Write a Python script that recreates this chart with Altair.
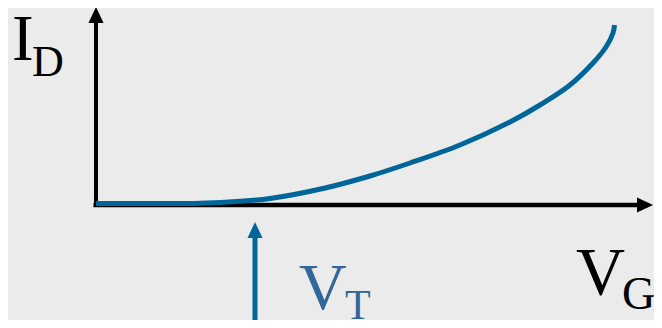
import altair as alt
import pandas as pd

# Transfer characteristic I_D vs V_G (arbitrary units)
vg = [0.0, 1.08, 2.08, 2.88, 3.48, 4.54, 5.48, 6.28, 7.28, 8.28, 8.88, 9.48, 9.94, 10.2, 10.34, 10.37]
id_ = [0.075, 0.075, 0.09, 0.185, 0.325, 0.825, 1.45, 2.1, 3.0, 4.15, 5.0, 6.0, 7.1, 7.9, 8.6, 9.0]

# Axis arrows (shafts) and heads
seg_x = [0.0, -0.05, 3.18]
seg_y = [-0.05, 0.0, -6.0]
seg_x2 = [0.0, 10.9, 3.18]
seg_y2 = [9.3, 0.0, -1.5]
seg_col = ["#000000", "#000000", "#006699"]
seg_w = [4, 4.5, 5]

tip_x = [0.0, 11.14, 3.18]
tip_y = [9.9, 0.0, -0.85]
tip_angle = [0, 90, 0]
tip_col = ["#000000", "#000000", "#006699"]

# Labels
lab_text = ["I", "D", "V", "G", "V", "T"]
lab_x = [-1.68, -1.28, 9.6, 10.52, 4.06, 4.98]
lab_y = [7.25, 6.45, -4.45, -5.2, -5.2, -5.72]
lab_size = [65, 44, 68, 46, 66, 42]
lab_col = ["#000000", "#000000", "#000000", "#000000", "#336699", "#336699"]

XD = [-1.76, 11.16]
YD = [-5.75, 9.85]
xs = alt.Scale(domain=XD, nice=False, zero=False)
ys = alt.Scale(domain=YD, nice=False, zero=False)

curve = pd.DataFrame({"vg": vg, "id": id_, "i": range(len(vg))})
segs = pd.DataFrame({"x": seg_x, "y": seg_y, "x2": seg_x2, "y2": seg_y2, "c": seg_col, "w": seg_w})
tips = pd.DataFrame({"x": tip_x, "y": tip_y, "a": tip_angle, "c": tip_col})
labs = pd.DataFrame({"t": lab_text, "x": lab_x, "y": lab_y, "s": lab_size, "c": lab_col})

rules = alt.Chart(segs).mark_rule(strokeCap="butt").encode(
    x=alt.X("x:Q", scale=xs, axis=None),
    y=alt.Y("y:Q", scale=ys, axis=None),
    x2="x2:Q",
    y2="y2:Q",
    color=alt.Color("c:N", scale=None),
    strokeWidth=alt.StrokeWidth("w:Q", scale=None),
)

heads = alt.Chart(tips).mark_point(
    shape="M0,0L0.94,2L-0.94,2Z", filled=True, opacity=1, size=256, strokeWidth=0
).encode(
    x=alt.X("x:Q", scale=xs, axis=None),
    y=alt.Y("y:Q", scale=ys, axis=None),
    angle=alt.Angle("a:Q", scale=None),
    color=alt.Color("c:N", scale=None),
)

line = alt.Chart(curve).mark_line(
    color="#006699", strokeWidth=5, interpolate="catmull-rom", strokeCap="butt"
).encode(
    x=alt.X("vg:Q", scale=xs, axis=None),
    y=alt.Y("id:Q", scale=ys, axis=None),
    order="i:Q",
)

text = alt.Chart(labs).mark_text(
    font="Liberation Serif", align="left", baseline="alphabetic"
).encode(
    x=alt.X("x:Q", scale=xs, axis=None),
    y=alt.Y("y:Q", scale=ys, axis=None),
    text="t:N",
    size=alt.Size("s:Q", scale=None),
    color=alt.Color("c:N", scale=None),
)

chart = (
    alt.layer(rules, line, heads, text)
    .properties(
        width=646,
        height=312,
        padding=0,
        autosize=alt.AutoSizeParams(type="none"),
        background="#ebebeb",
    )
    .configure_view(stroke=None)
)

chart.save("out.html", embed_options={"renderer": "svg", "actions": False})
